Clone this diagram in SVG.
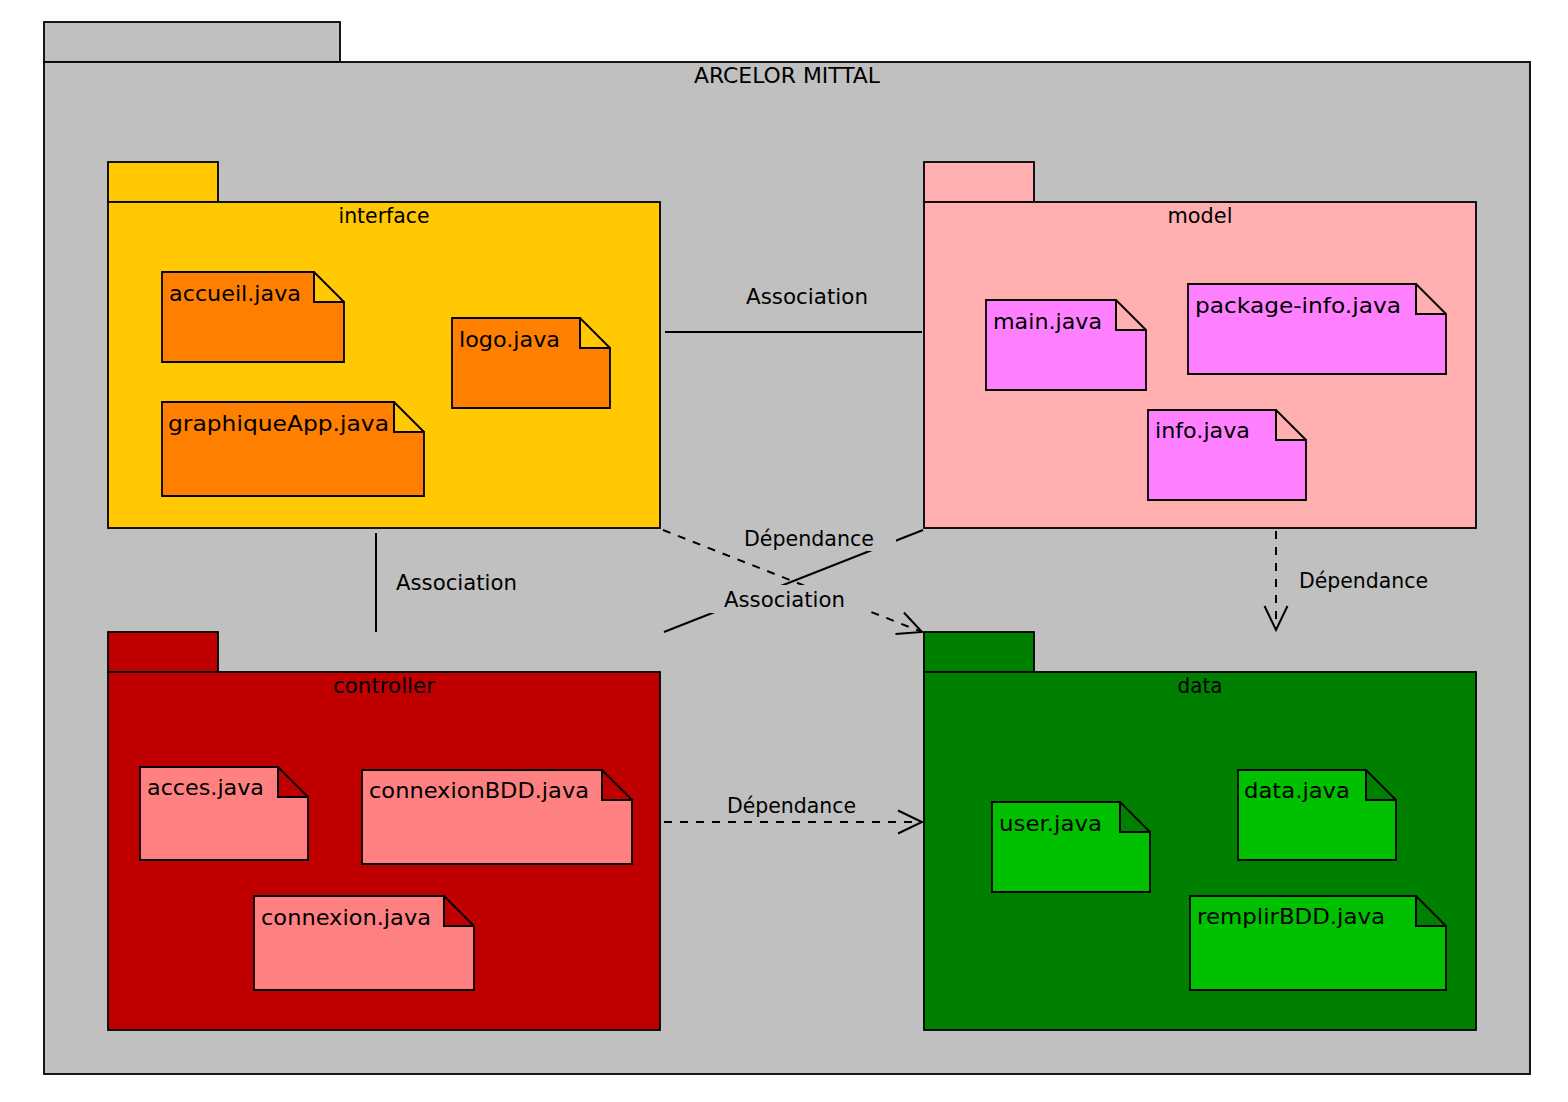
<svg xmlns="http://www.w3.org/2000/svg" width="1568" height="1102" viewBox="0 0 1568 1102">
<style>
  text { font-family: "DejaVu Sans", "Liberation Sans", sans-serif; font-size: 22px; fill: #000; }
  .pkg { stroke: #000; stroke-width: 1.8; }
  .note { stroke: #000; stroke-width: 1.8; }
  .fold { fill: none; stroke: #000; stroke-width: 1.8; }
  .title { text-anchor: middle; }
  .solid { fill: none; stroke: #000; stroke-width: 2; }
  .dash { fill: none; stroke: #000; stroke-width: 2; stroke-dasharray: 8 8; }
  .lblbg { fill: #c0c0c0; stroke: none; }
</style>
<defs>
  <marker id="open" markerUnits="userSpaceOnUse" markerWidth="32" markerHeight="32" viewBox="-28 -16 32 32" refX="0" refY="0" orient="auto">
    <path d="M-24,-11.5 L0,0 L-24,11.5" fill="none" stroke="#000" stroke-width="2" stroke-dasharray="none"/>
  </marker>
</defs>
<rect width="1568" height="1102" fill="#ffffff"/>

<g id="arcelor-mittal">
  <rect class="pkg" x="44" y="22" width="296" height="40" fill="#c0c0c0"/>
  <rect class="pkg" x="44" y="62" width="1486" height="1012" fill="#c0c0c0"/>
  <text class="title" x="787" y="83" textLength="186" lengthAdjust="spacingAndGlyphs">ARCELOR MITTAL</text>
</g>

<g id="interface">
  <rect class="pkg" x="108" y="162" width="110" height="40" fill="#ffc800"/>
  <rect class="pkg" x="108" y="202" width="552" height="326" fill="#ffc800"/>
  <text class="title" x="384" y="223" textLength="91" lengthAdjust="spacingAndGlyphs">interface</text>
</g>
<g id="accueil-java">
  <path class="note" fill="#ff8000" d="M162,272 H314 V302 H344 V362 H162 Z"/>
  <path class="fold" d="M314,272 L344,302 M314,272 V302 H344"/>
  <text x="169" y="301" textLength="132" lengthAdjust="spacingAndGlyphs">accueil.java</text>
</g>
<g id="logo-java">
  <path class="note" fill="#ff8000" d="M452,318 H580 V348 H610 V408 H452 Z"/>
  <path class="fold" d="M580,318 L610,348 M580,318 V348 H610"/>
  <text x="459" y="347" textLength="101" lengthAdjust="spacingAndGlyphs">logo.java</text>
</g>
<g id="graphiqueApp-java">
  <path class="note" fill="#ff8000" d="M162,402 H394 V432 H424 V496 H162 Z"/>
  <path class="fold" d="M394,402 L424,432 M394,402 V432 H424"/>
  <text x="168" y="431" textLength="221" lengthAdjust="spacingAndGlyphs">graphiqueApp.java</text>
</g>

<g id="model">
  <rect class="pkg" x="924" y="162" width="110" height="40" fill="#ffafaf"/>
  <rect class="pkg" x="924" y="202" width="552" height="326" fill="#ffafaf"/>
  <text class="title" x="1200" y="223" textLength="65" lengthAdjust="spacingAndGlyphs">model</text>
</g>
<g id="main-java">
  <path class="note" fill="#ff80ff" d="M986,300 H1116 V330 H1146 V390 H986 Z"/>
  <path class="fold" d="M1116,300 L1146,330 M1116,300 V330 H1146"/>
  <text x="993" y="329" textLength="109" lengthAdjust="spacingAndGlyphs">main.java</text>
</g>
<g id="package-info-java">
  <path class="note" fill="#ff80ff" d="M1188,284 H1416 V314 H1446 V374 H1188 Z"/>
  <path class="fold" d="M1416,284 L1446,314 M1416,284 V314 H1446"/>
  <text x="1195" y="313" textLength="206" lengthAdjust="spacingAndGlyphs">package-info.java</text>
</g>
<g id="info-java">
  <path class="note" fill="#ff80ff" d="M1148,410 H1276 V440 H1306 V500 H1148 Z"/>
  <path class="fold" d="M1276,410 L1306,440 M1276,410 V440 H1306"/>
  <text x="1155" y="438" textLength="95" lengthAdjust="spacingAndGlyphs">info.java</text>
</g>

<g id="controller">
  <rect class="pkg" x="108" y="632" width="110" height="40" fill="#c00000"/>
  <rect class="pkg" x="108" y="672" width="552" height="358" fill="#c00000"/>
  <text class="title" x="384" y="693" textLength="102" lengthAdjust="spacingAndGlyphs">controller</text>
</g>
<g id="acces-java">
  <path class="note" fill="#ff8080" d="M140,767 H278 V797 H308 V860 H140 Z"/>
  <path class="fold" d="M278,767 L308,797 M278,767 V797 H308"/>
  <text x="147" y="795" textLength="117" lengthAdjust="spacingAndGlyphs">acces.java</text>
</g>
<g id="connexionBDD-java">
  <path class="note" fill="#ff8080" d="M362,770 H602 V800 H632 V864 H362 Z"/>
  <path class="fold" d="M602,770 L632,800 M602,770 V800 H632"/>
  <text x="369" y="798" textLength="220" lengthAdjust="spacingAndGlyphs">connexionBDD.java</text>
</g>
<g id="connexion-java">
  <path class="note" fill="#ff8080" d="M254,896 H444 V926 H474 V990 H254 Z"/>
  <path class="fold" d="M444,896 L474,926 M444,896 V926 H474"/>
  <text x="261" y="925" textLength="170" lengthAdjust="spacingAndGlyphs">connexion.java</text>
</g>

<g id="data">
  <rect class="pkg" x="924" y="632" width="110" height="40" fill="#008000"/>
  <rect class="pkg" x="924" y="672" width="552" height="358" fill="#008000"/>
  <text class="title" x="1200" y="693" textLength="45" lengthAdjust="spacingAndGlyphs">data</text>
</g>
<g id="user-java">
  <path class="note" fill="#00c000" d="M992,802 H1120 V832 H1150 V892 H992 Z"/>
  <path class="fold" d="M1120,802 L1150,832 M1120,802 V832 H1150"/>
  <text x="999" y="831" textLength="103" lengthAdjust="spacingAndGlyphs">user.java</text>
</g>
<g id="data-java">
  <path class="note" fill="#00c000" d="M1238,770 H1366 V800 H1396 V860 H1238 Z"/>
  <path class="fold" d="M1366,770 L1396,800 M1366,770 V800 H1396"/>
  <text x="1244" y="798" textLength="106" lengthAdjust="spacingAndGlyphs">data.java</text>
</g>
<g id="remplirBDD-java">
  <path class="note" fill="#00c000" d="M1190,896 H1416 V926 H1446 V990 H1190 Z"/>
  <path class="fold" d="M1416,896 L1446,926 M1416,896 V926 H1446"/>
  <text x="1197" y="924" textLength="188" lengthAdjust="spacingAndGlyphs">remplirBDD.java</text>
</g>

<g id="connectors">
  <line class="solid" x1="665" y1="332" x2="922" y2="332"/>
  <line class="solid" x1="376" y1="533" x2="376" y2="632"/>
  <line class="solid" x1="664" y1="632" x2="923" y2="530"/>
  <line class="dash" x1="663" y1="530" x2="922" y2="632" marker-end="url(#open)"/>
  <line class="dash" x1="1276" y1="531" x2="1276" y2="630" marker-end="url(#open)"/>
  <line class="dash" x1="664" y1="822" x2="922" y2="822" marker-end="url(#open)"/>
  <rect class="lblbg" x="722" y="524" width="174" height="27"/>
  <rect class="lblbg" x="700" y="585" width="170" height="28"/>
  <text x="746" y="304" textLength="122" lengthAdjust="spacingAndGlyphs">Association</text>
  <text x="396" y="590" textLength="121" lengthAdjust="spacingAndGlyphs">Association</text>
  <text x="724" y="607" textLength="121" lengthAdjust="spacingAndGlyphs">Association</text>
  <text x="744" y="546" textLength="130" lengthAdjust="spacingAndGlyphs">Dépendance</text>
  <text x="1299" y="588" textLength="129" lengthAdjust="spacingAndGlyphs">Dépendance</text>
  <text x="727" y="813" textLength="129" lengthAdjust="spacingAndGlyphs">Dépendance</text>
</g>
</svg>
